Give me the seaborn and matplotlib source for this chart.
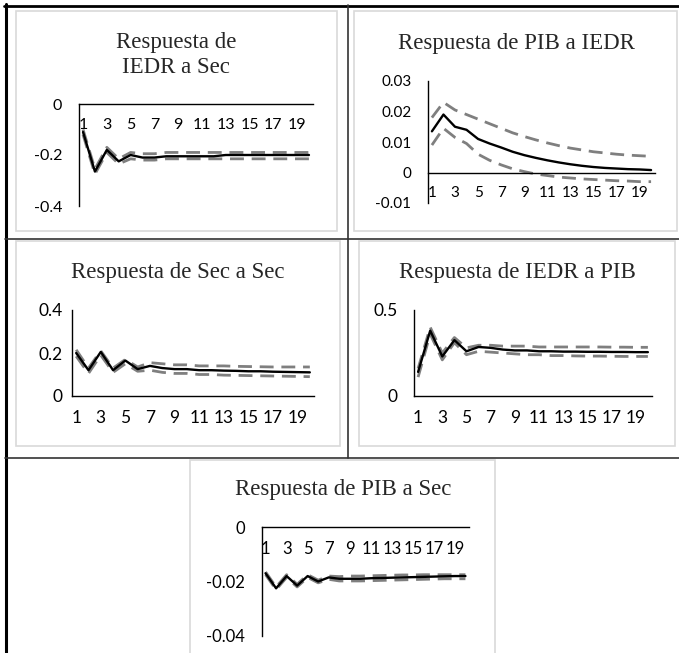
import matplotlib
matplotlib.use('Agg')
import matplotlib.pyplot as plt
from matplotlib.lines import Line2D
from matplotlib.patches import Rectangle
import numpy as np
import seaborn as sns

# periods of the impulse response
periods = np.arange(1, 21)
xtick_pos = [1, 3, 5, 7, 9, 11, 13, 15, 17, 19]

# Respuesta de IEDR a Sec
iedr_sec_mid = [-0.11, -0.265, -0.18, -0.225, -0.20, -0.21, -0.21, -0.205, -0.205, -0.205,
                -0.205, -0.205, -0.20, -0.20, -0.20, -0.20, -0.20, -0.20, -0.20, -0.20]
iedr_sec_up = [-0.10, -0.255, -0.17, -0.215, -0.19, -0.195, -0.195, -0.19, -0.19, -0.19,
               -0.19, -0.19, -0.19, -0.19, -0.19, -0.19, -0.19, -0.19, -0.19, -0.19]
iedr_sec_lo = [-0.12, -0.275, -0.19, -0.235, -0.215, -0.22, -0.22, -0.215, -0.215, -0.215,
               -0.215, -0.215, -0.215, -0.215, -0.215, -0.215, -0.215, -0.215, -0.215, -0.215]

# Respuesta de PIB a IEDR
pib_iedr_mid = [0.0135, 0.019, 0.015, 0.014, 0.011, 0.0095, 0.0082, 0.0068, 0.0057, 0.0048,
                0.004, 0.0033, 0.0027, 0.0022, 0.0018, 0.0015, 0.0013, 0.0011, 0.001, 0.0008]
pib_iedr_up = [0.018, 0.023, 0.0205, 0.019, 0.0175, 0.016, 0.0145, 0.013, 0.0118, 0.0107,
               0.0097, 0.0088, 0.008, 0.0074, 0.0068, 0.0064, 0.006, 0.0057, 0.0055, 0.0053]
pib_iedr_lo = [0.009, 0.0145, 0.0115, 0.0095, 0.006, 0.004, 0.0025, 0.0012, 0.0003, -0.0005,
               -0.001, -0.0015, -0.0018, -0.0021, -0.0023, -0.0025, -0.0027, -0.0028, -0.003, -0.003]

# Respuesta de Sec a Sec
sec_sec_mid = [0.20, 0.12, 0.205, 0.12, 0.165, 0.125, 0.14, 0.13, 0.125, 0.125,
               0.12, 0.12, 0.118, 0.117, 0.115, 0.115, 0.113, 0.112, 0.111, 0.11]
sec_sec_up = [0.215, 0.13, 0.21, 0.13, 0.17, 0.135, 0.155, 0.15, 0.145, 0.145,
              0.14, 0.14, 0.14, 0.138, 0.137, 0.136, 0.135, 0.135, 0.135, 0.135]
sec_sec_lo = [0.185, 0.105, 0.19, 0.11, 0.15, 0.115, 0.12, 0.11, 0.105, 0.105,
              0.10, 0.10, 0.097, 0.096, 0.095, 0.094, 0.093, 0.092, 0.091, 0.09]

# Respuesta de IEDR a PIB
iedr_pib_mid = [0.14, 0.38, 0.23, 0.325, 0.26, 0.285, 0.28, 0.27, 0.265, 0.265,
                0.26, 0.26, 0.258, 0.258, 0.257, 0.257, 0.256, 0.256, 0.255, 0.255]
iedr_pib_up = [0.16, 0.40, 0.25, 0.34, 0.28, 0.295, 0.295, 0.29, 0.29, 0.29,
               0.285, 0.285, 0.285, 0.285, 0.285, 0.285, 0.284, 0.284, 0.283, 0.283]
iedr_pib_lo = [0.11, 0.36, 0.21, 0.31, 0.24, 0.26, 0.255, 0.25, 0.245, 0.24,
               0.24, 0.235, 0.235, 0.233, 0.232, 0.232, 0.231, 0.23, 0.23, 0.23]

# Respuesta de PIB a Sec
pib_sec_mid = [-0.017, -0.0225, -0.018, -0.0215, -0.018, -0.020, -0.0185, -0.019, -0.019, -0.019,
               -0.0188, -0.0187, -0.0186, -0.0185, -0.0184, -0.0183, -0.0182, -0.0181, -0.018, -0.018]
pib_sec_up = [-0.0165, -0.022, -0.0175, -0.021, -0.0175, -0.0195, -0.018, -0.0182, -0.018, -0.018,
              -0.0179, -0.0178, -0.0177, -0.0176, -0.0176, -0.0175, -0.0175, -0.0175, -0.0175, -0.0175]
pib_sec_lo = [-0.0175, -0.023, -0.0185, -0.022, -0.0185, -0.0205, -0.0192, -0.0198, -0.0198, -0.0198,
              -0.0197, -0.0196, -0.0195, -0.0194, -0.0193, -0.0192, -0.0191, -0.019, -0.019, -0.019]

W, H = 679, 653
GREY = '#7f7f7f'

sns.set_style('white')
plt.rcParams['font.family'] = ['Lato', 'DejaVu Sans']
plt.rcParams['axes.unicode_minus'] = False


def frect(x0, y0, x1, y1):
    return [x0 / W, 1 - y1 / H, (x1 - x0) / W, (y1 - y0) / H]


def panel(fig, box, mid, up, lo, ylim, yticks, yticklabels, fs, ypad):
    ax = fig.add_axes(frect(*box))
    ax.patch.set_alpha(0)
    dash = (0, (5, 2.8))
    sns.lineplot(x=periods, y=up, ax=ax, color=GREY, lw=2.0, linestyle=dash, errorbar=None)
    sns.lineplot(x=periods, y=lo, ax=ax, color=GREY, lw=2.0, linestyle=dash, errorbar=None)
    sns.lineplot(x=periods, y=mid, ax=ax, color='black', lw=1.7, errorbar=None)
    ax.set_xlim(0.66, 20.34)
    ax.set_ylim(*ylim)
    for s in ['top', 'right']:
        ax.spines[s].set_visible(False)
    ax.spines['bottom'].set_position(('data', 0))
    for s in ['left', 'bottom']:
        ax.spines[s].set_color('black')
        ax.spines[s].set_linewidth(1.0)
    ax.set_xticks(xtick_pos)
    ax.set_xticklabels([str(v) for v in xtick_pos])
    ax.set_yticks(yticks)
    ax.set_yticklabels(yticklabels)
    ax.tick_params(axis='x', length=0, pad=10, labelsize=fs, colors='#000000')
    ax.tick_params(axis='y', length=0, pad=ypad, labelsize=fs, colors='#000000')
    ax.set_xlabel('')
    ax.set_ylabel('')
    ax.grid(False)
    return ax


fig = plt.figure(figsize=(W / 100, H / 100), dpi=100)

# table lines and chart frames
def fline(xs, ys, **kw):
    fig.add_artist(Line2D([x / W for x in xs], [1 - y / H for y in ys],
                          transform=fig.transFigure, **kw))

def fbox(x0, y0, x1, y1):
    fig.add_artist(Rectangle((x0 / W, 1 - y1 / H), (x1 - x0) / W, (y1 - y0) / H,
                             transform=fig.transFigure, fill=False,
                             ec='#d9d9d9', lw=1.2))

fbox(16, 11, 337, 231)
fbox(354, 11, 677, 231)
fbox(16, 241, 340, 446)
fbox(359, 241, 675, 446)
fbox(190, 460, 495, 660)

fline([5.5, 5.5], [4, 653], color='black', lw=2.2)
fline([4, 679], [5.5, 5.5], color='black', lw=2.0)
fline([5, 679], [239, 239], color='#333333', lw=1.2)
fline([5, 679], [458, 458], color='#333333', lw=1.2)
fline([348, 348], [5, 458], color='#333333', lw=1.2)

serif = ['Liberation Serif', 'DejaVu Serif']
tsize = 16.5
fig.text(176 / W, 1 - 55 / H, 'Respuesta de\nIEDR a Sec', ha='center', va='center',
         family=serif, size=tsize, linespacing=1.25)
fig.text(516 / W, 1 - 43 / H, 'Respuesta de PIB a IEDR', ha='center', va='center',
         family=serif, size=tsize)
fig.text(178 / W, 1 - 272 / H, 'Respuesta de Sec a Sec', ha='center', va='center',
         family=serif, size=tsize)
fig.text(517 / W, 1 - 272 / H, 'Respuesta de IEDR a PIB', ha='center', va='center',
         family=serif, size=tsize)
fig.text(343 / W, 1 - 490 / H, 'Respuesta de PIB a Sec', ha='center', va='center',
         family=serif, size=tsize)

panel(fig, (79, 104, 313, 206), iedr_sec_mid, iedr_sec_up, iedr_sec_lo,
      (-0.4, 0), [0, -0.2, -0.4], ['0', '-0.2', '-0.4'], 11.5, 12)
panel(fig, (428, 81, 655, 203), pib_iedr_mid, pib_iedr_up, pib_iedr_lo,
      (-0.01, 0.03), [-0.01, 0, 0.01, 0.02, 0.03],
      ['-0.01', '0', '0.01', '0.02', '0.03'], 11, 12)
panel(fig, (72, 310, 314, 396), sec_sec_mid, sec_sec_up, sec_sec_lo,
      (0, 0.4), [0, 0.2, 0.4], ['0', '0.2', '0.4'], 12.5, 7)
panel(fig, (414, 310, 652, 396), iedr_pib_mid, iedr_pib_up, iedr_pib_lo,
      (0, 0.5), [0, 0.5], ['0', '0.5'], 12.5, 12)
panel(fig, (262, 527, 469, 636), pib_sec_mid, pib_sec_up, pib_sec_lo,
      (-0.04, 0), [0, -0.02, -0.04], ['0', '-0.02', '-0.04'], 12, 12)

fig.savefig('out.png', dpi=100)
